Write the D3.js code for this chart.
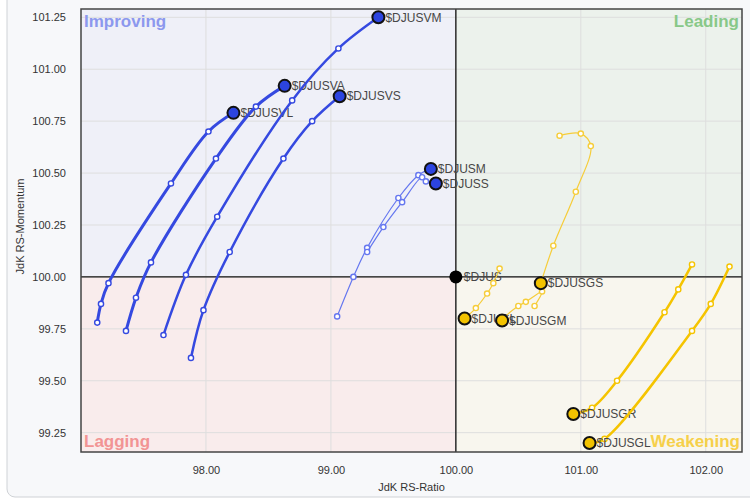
<!DOCTYPE html>
<html>
<head>
<meta charset="utf-8">
<script src="https://cdn.jsdelivr.net/npm/d3@7"></script>
<style>
  body { margin: 0; background: #fff; }
  svg { display: block; font-family: "Liberation Sans", Arial, sans-serif; }
</style>
</head>
<body>
<div id="chart"></div>
<script>
// tick values
const xTicks = [98, 99, 100, 101, 102];
const yTicks = [99.25, 99.5, 99.75, 100, 100.25, 100.5, 100.75, 101, 101.25];

// tails: first value = oldest point, last = head
const svlRatio = [97.13, 97.16, 97.22, 97.72, 98.02, 98.22];
const svlMom   = [99.78, 99.87, 99.97, 100.45, 100.70, 100.79];
const svaRatio = [97.36, 97.44, 97.56, 98.08, 98.40, 98.63];
const svaMom   = [99.74, 99.90, 100.07, 100.57, 100.82, 100.92];
const svmRatio = [97.66, 97.84, 98.09, 98.69, 99.06, 99.38];
const svmMom   = [99.72, 100.01, 100.29, 100.85, 101.10, 101.25];
const svsRatio = [97.88, 97.98, 98.19, 98.62, 98.85, 99.07];
const svsMom   = [99.61, 99.84, 100.12, 100.57, 100.75, 100.87];
const smRatio  = [99.05, 99.18, 99.29, 99.54, 99.70, 99.80];
const smMom    = [99.81, 100.00, 100.14, 100.38, 100.49, 100.52];
const ssRatio  = [99.29, 99.42, 99.57, 99.73, 99.76, 99.84];
const ssMom    = [100.12, 100.24, 100.36, 100.48, 100.46, 100.45];
const lRatio   = [100.35, 100.30, 100.25, 100.16, 100.07];
const lMom     = [100.04, 99.97, 99.92, 99.85, 99.80];
const gmRatio  = [100.63, 100.69, 100.56, 100.50, 100.38, 100.37];
const gmMom    = [99.86, 99.93, 99.88, 99.86, 99.80, 99.79];
const gsRatio  = [100.83, 101.00, 101.08, 100.96, 100.78, 100.68];
const gsMom    = [100.68, 100.69, 100.63, 100.41, 100.15, 99.97];
const grRatio  = [101.89, 101.78, 101.67, 101.29, 101.09, 100.94];
const grMom    = [100.06, 99.94, 99.83, 99.50, 99.37, 99.34];
const glRatio  = [102.19, 102.04, 101.89, 101.19, 101.07];
const glMom    = [100.05, 99.87, 99.74, 99.22, 99.20];
const benchName = "$DJUS";
const benchPoint = [100, 100];

const blue = "#3549e0", blueThin = "#6577f0", gold = "#f5c400", goldThin = "#f6cd3a";

const series = [
  { name: "$DJUSVL", ratio: svlRatio, mom: svlMom, color: blue, fill: "#2c44e0", w: 3 },
  { name: "$DJUSVA", ratio: svaRatio, mom: svaMom, color: blue, fill: "#2c44e0", w: 3 },
  { name: "$DJUSVM", ratio: svmRatio, mom: svmMom, color: blue, fill: "#2c44e0", w: 2.5 },
  { name: "$DJUSVS", ratio: svsRatio, mom: svsMom, color: blue, fill: "#2c44e0", w: 2.5 },
  { name: "$DJUSM", ratio: smRatio, mom: smMom, color: blueThin, fill: "#2c44e0", w: 1.2 },
  { name: "$DJUSS", ratio: ssRatio, mom: ssMom, color: blueThin, fill: "#2c44e0", w: 1.2 },
  { name: "$DJUSL", ratio: lRatio, mom: lMom, color: goldThin, fill: "#f2c200", w: 1.2 },
  { name: "$DJUSGM", ratio: gmRatio, mom: gmMom, color: goldThin, fill: "#f2c200", w: 1.2 },
  { name: "$DJUSGS", ratio: gsRatio, mom: gsMom, color: goldThin, fill: "#f2c200", w: 1.2 },
  { name: "$DJUSGR", ratio: grRatio, mom: grMom, color: gold, fill: "#f2c200", w: 2.5 },
  { name: "$DJUSGL", ratio: glRatio, mom: glMom, color: gold, fill: "#f2c200", w: 2.5 }
];

const width = 750, height = 499;
const margin = { top: 9, right: 8, bottom: 47, left: 81 };
const innerW = width - margin.left - margin.right;
const innerH = height - margin.top - margin.bottom;

const svg = d3.select("#chart").append("svg")
    .attr("width", width)
    .attr("height", height);

// outer panel
svg.append("rect")
    .attr("x", 7).attr("y", -10)
    .attr("width", 770).attr("height", 507)
    .attr("rx", 8)
    .attr("fill", "#f7f8fa")
    .attr("stroke", "#cfd2d6");

const x = d3.scaleLinear().domain([97.0, 102.29]).range([0, innerW]);
const y = d3.scaleLinear().domain([99.157, 101.29]).range([innerH, 0]);

const g = svg.append("g")
    .attr("transform", "translate(" + margin.left + "," + margin.top + ")");

// quadrant backgrounds
const quads = [
  { x0: 97.0, x1: 100, y0: 100, y1: 101.29, fill: "#eff0f8" },
  { x0: 100, x1: 102.29, y0: 100, y1: 101.29, fill: "#ecf2ec" },
  { x0: 97.0, x1: 100, y0: 99.157, y1: 100, fill: "#f9ecec" },
  { x0: 100, x1: 102.29, y0: 99.157, y1: 100, fill: "#f8f6ee" }
];
g.selectAll(".quad").data(quads).join("rect")
    .attr("x", d => x(d.x0))
    .attr("y", d => y(d.y1))
    .attr("width", d => x(d.x1) - x(d.x0))
    .attr("height", d => y(d.y0) - y(d.y1))
    .attr("fill", d => d.fill);

// grid
g.selectAll(".vgrid").data(xTicks).join("line")
    .attr("x1", d => x(d)).attr("x2", d => x(d))
    .attr("y1", 0).attr("y2", innerH)
    .attr("stroke", "#dedede");
g.selectAll(".hgrid").data(yTicks).join("line")
    .attr("y1", d => y(d)).attr("y2", d => y(d))
    .attr("x1", 0).attr("x2", innerW)
    .attr("stroke", "#dedede");

// center cross
g.append("line")
    .attr("x1", x(100)).attr("x2", x(100))
    .attr("y1", 0).attr("y2", innerH)
    .attr("stroke", "#111").attr("stroke-width", 1.3);
g.append("line")
    .attr("y1", y(100)).attr("y2", y(100))
    .attr("x1", 0).attr("x2", innerW)
    .attr("stroke", "#111").attr("stroke-width", 1.3);

// border
g.append("rect")
    .attr("width", innerW).attr("height", innerH)
    .attr("fill", "none")
    .attr("stroke", "#444").attr("stroke-width", 1.5);

// axes (labels only)
const xAxis = g.append("g")
    .attr("transform", "translate(0," + innerH + ")")
    .call(d3.axisBottom(x).tickValues(xTicks).tickFormat(d3.format(".2f")).tickSize(0).tickPadding(14));
const yAxis = g.append("g")
    .call(d3.axisLeft(y).tickValues(yTicks).tickFormat(d3.format(".2f")).tickSize(0).tickPadding(15));
[xAxis, yAxis].forEach(a => {
  a.select(".domain").remove();
  a.selectAll("text").attr("font-size", 11).attr("fill", "#333")
      .attr("font-family", "'Liberation Sans', Arial, sans-serif");
});

svg.append("text")
    .attr("x", margin.left + innerW / 2).attr("y", 491)
    .attr("text-anchor", "middle")
    .attr("font-size", 11).attr("fill", "#333")
    .text("JdK RS-Ratio");
svg.append("text")
    .attr("transform", "translate(24," + (margin.top + innerH / 2 - 4) + ") rotate(-90)")
    .attr("text-anchor", "middle")
    .attr("font-size", 11).attr("fill", "#333")
    .text("JdK RS-Momentum");

// tails
const line = d3.line()
    .x(d => x(d[0]))
    .y(d => y(d[1]))
    .curve(d3.curveCatmullRom.alpha(0.5));

const drawSeries = s => {
  const pts = s.ratio.map((r, i) => [r, s.mom[i]]);
  const sg = g.append("g");
  sg.append("path")
      .attr("d", line(pts))
      .attr("fill", "none")
      .attr("stroke", s.color)
      .attr("stroke-width", s.w);
  sg.selectAll("circle.tail").data(pts.slice(0, -1)).join("circle")
      .attr("cx", d => x(d[0])).attr("cy", d => y(d[1]))
      .attr("r", 2.6)
      .attr("fill", "#fff")
      .attr("stroke", s.color)
      .attr("stroke-width", 1.4);
  const head = pts[pts.length - 1];
  sg.append("circle")
      .attr("cx", x(head[0])).attr("cy", y(head[1]))
      .attr("r", 6)
      .attr("fill", s.fill)
      .attr("stroke", "#111")
      .attr("stroke-width", 2);
  sg.append("text")
      .attr("x", x(head[0]) + 7).attr("y", y(head[1]))
      .attr("dy", "0.35em")
      .attr("font-size", 12).attr("fill", "#474747")
      .text(s.name);
};

series.slice(0, 6).forEach(drawSeries);

// benchmark
g.append("circle")
    .attr("cx", x(benchPoint[0])).attr("cy", y(benchPoint[1]))
    .attr("r", 6.5).attr("fill", "#000");
g.append("text")
    .attr("x", x(benchPoint[0]) + 8).attr("y", y(benchPoint[1]))
    .attr("dy", "0.35em")
    .attr("font-size", 12).attr("fill", "#474747")
    .text(benchName);

series.slice(6).forEach(drawSeries);

// quadrant names
const qLabels = [
  { t: "Improving", x: 3, y: 18, anchor: "start", c: "#8c98ee" },
  { t: "Leading", x: innerW - 3, y: 18, anchor: "end", c: "#88c888" },
  { t: "Lagging", x: 3, y: innerH - 5, anchor: "start", c: "#f29494" },
  { t: "Weakening", x: innerW - 2, y: innerH - 5, anchor: "end", c: "#f6d04a" }
];
g.selectAll(".qlab").data(qLabels).join("text")
    .attr("x", d => d.x).attr("y", d => d.y)
    .attr("text-anchor", d => d.anchor)
    .attr("font-size", 17).attr("font-weight", "bold")
    .attr("fill", d => d.c)
    .text(d => d.t);
</script>
</body>
</html>
